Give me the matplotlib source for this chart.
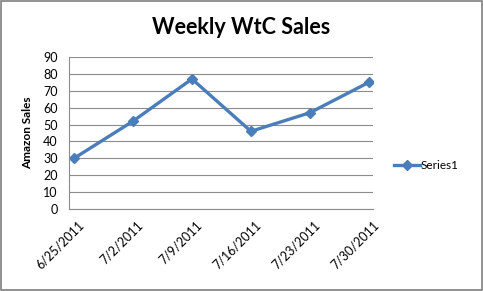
import matplotlib.pyplot as plt
import matplotlib.transforms as mtransforms
import numpy as np

# ── Data ──────────────────────────────────────
weeks = ["6/25/2011", "7/2/2011", "7/9/2011", "7/16/2011", "7/23/2011", "7/30/2011"]
sales = [30, 52, 77, 46, 57, 75]
y_ticks = list(range(0, 91, 10))

BLUE = "#4A7EBB"
GRID = "#8C8C8C"

plt.rcParams["font.family"] = ["Lato", "DejaVu Sans"]

fig = plt.figure(figsize=(4.83, 2.91), dpi=100)
ax = fig.add_axes([69 / 483, 1 - 209 / 291, (373 - 69) / 483, (209 - 57) / 291])

x = np.arange(len(weeks))
ax.plot(x, sales, color=BLUE, lw=2.4, marker="D", ms=5.5, label="Series1")

ax.set_xlim(-0.085, len(weeks) - 1 + 0.07)
ax.set_ylim(0, 90)
ax.set_yticks(y_ticks)
ax.set_xticks(x)
ax.set_xticklabels(weeks, rotation=45, ha="right", rotation_mode="anchor")
ax.tick_params(axis="both", length=0, labelsize=9, colors="black")
ax.tick_params(axis="y", pad=8)
ax.tick_params(axis="x", pad=7)

# nudge the slanted date labels a little to the right, as Excel does
shift = mtransforms.ScaledTranslation(4 / 100, 0, fig.dpi_scale_trans)
for lbl in ax.get_xticklabels():
    lbl.set_transform(lbl.get_transform() + shift)

ax.yaxis.grid(True, color=GRID, lw=0.8)
ax.set_axisbelow(True)
for side in ("top", "right"):
    ax.spines[side].set_visible(False)
for side in ("left", "bottom"):
    ax.spines[side].set_color(GRID)
    ax.spines[side].set_linewidth(0.8)

ax.set_ylabel("Amazon Sales", fontsize=8.5, fontweight="bold", labelpad=7)
fig.text(0.5, 1 - 27 / 291, "Weekly WtC Sales", ha="center", va="center",
         fontsize=15.5, fontweight="bold")

ax.legend(loc="center left", bbox_to_anchor=(388 / 483, 1 - 166 / 291),
          bbox_transform=fig.transFigure, frameon=False, fontsize=8.5,
          handlelength=2.2, handletextpad=0.1, borderpad=0)

# outer chart border
fig.patches.append(plt.Rectangle((0.002, 0.003), 0.995, 0.994, transform=fig.transFigure,
                                 fill=False, edgecolor="#7F7F7F", lw=1.2))

fig.savefig("out.png", dpi=100)
